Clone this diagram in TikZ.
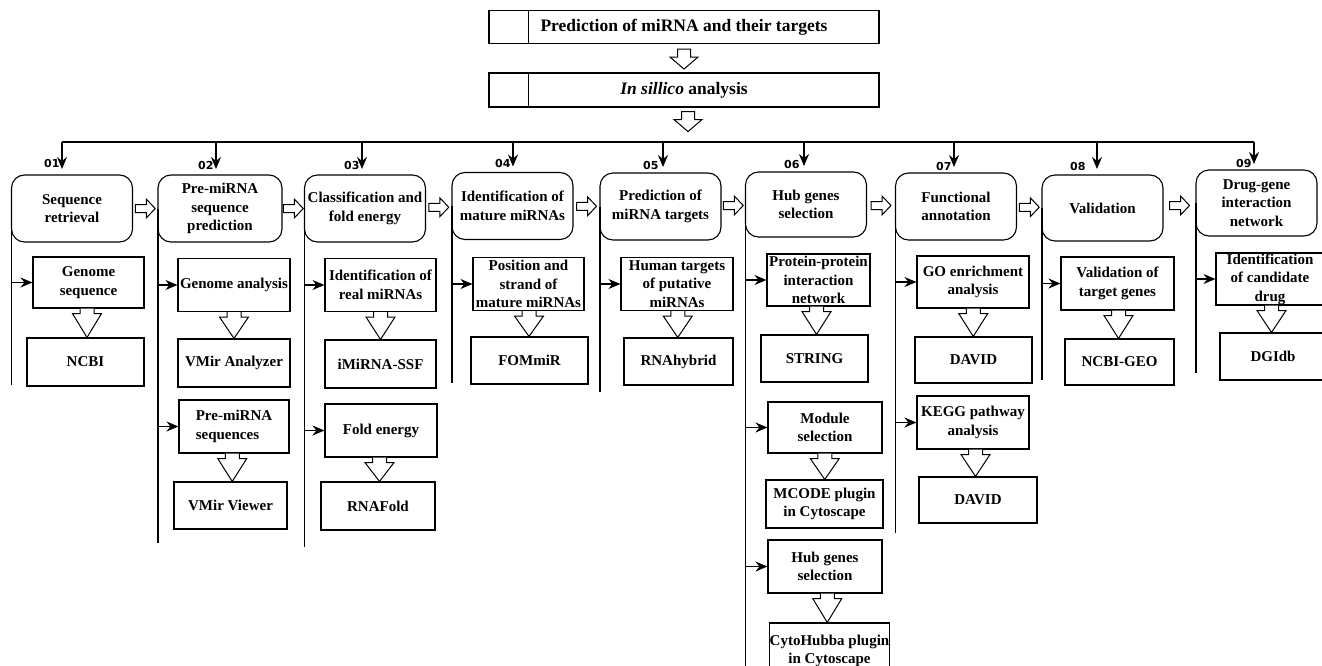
\documentclass[tikz,border=0pt]{standalone}
\usepackage{fontspec}
\setmainfont{Liberation Serif}
\newfontfamily\numfont{DejaVu Sans}
\usetikzlibrary{arrows.meta}
\usetikzlibrary{calc}

\tikzset{
  headbox/.style={draw, rounded corners=13pt, outer sep=0pt, minimum width=121pt, minimum height=67pt, align=center, inner sep=0pt, font=\fontsize{15}{18.5}\selectfont\bfseries},
  subbox/.style={draw, minimum width=112pt, minimum height=53pt, align=center, inner sep=0pt, font=\fontsize{15}{18.5}\selectfont\bfseries},
  toolbox/.style={draw, minimum width=114pt, minimum height=47pt, align=center, inner sep=0pt, font=\fontsize{15}{18.5}\selectfont\bfseries},
  titlebox/.style={draw, minimum width=390pt, minimum height=33pt, inner sep=0pt, font=\fontsize{17.5}{20}\selectfont\bfseries},
  numlabel/.style={inner sep=0pt, font=\numfont\bfseries\fontsize{11}{13}\selectfont},
  hollow/.style={draw, fill=white, line width=1pt, line join=miter},
  feed/.style={-{Stealth[length=12pt,width=10pt,inset=4pt]}},
  drop/.style={-{Stealth[length=12pt,width=10pt,inset=4pt]}, shorten >=6pt},
}

% hollow block arrow from one box down to the next
\newcommand{\blockdown}[2]{%
  \coordinate (mid) at ($(#1.south)!0.5!(#2.north)$);
  \coordinate (bt) at (mid |- #1.south);
  \draw[hollow] ($(bt)+(-7,0)$) -- ($(bt)+(-7,5)$) -- ($(bt)+(-14.5,5)$) -- (mid |- #2.north) -- ($(bt)+(14.5,5)$) -- ($(bt)+(7,5)$) -- ($(bt)+(7,0)$);
}
% hollow block arrow between two step headers
\newcommand{\blockright}[2]{%
  \coordinate (mid) at ($(#1.east)!0.5!(#2.west)$);
  \draw[hollow] ($(mid)+(-10,-4)$) -- ($(mid)+(1,-4)$) -- ($(mid)+(1,-9.5)$) -- ($(mid)+(10,0)$) -- ($(mid)+(1,9.5)$) -- ($(mid)+(1,4)$) -- ($(mid)+(-10,4)$) -- cycle;
}

\begin{document}
\begin{tikzpicture}[x=1pt,y=1pt,yscale=-1,line width=1.1pt]
\useasboundingbox (0,0) rectangle (1322,666);
\clip (0,0) rectangle (1322,666);

% title boxes
\node[titlebox] (top1) at (684,27) {Prediction of miRNA and their targets};
\draw ($(top1.north west)+(40,0)$) -- ($(top1.south west)+(40,0)$);
\node[titlebox, minimum height=34pt] (top2) at (684,90) {\textit{In sillico} analysis};
\draw ($(top2.north west)+(40,0)$) -- ($(top2.south west)+(40,0)$);
\draw[hollow] ($(top1.south)+(-6.5,5)$) -- ++(0,8) -- ++(-7.5,0) -- ++(14,12) -- ++(14,-12) -- ++(-7.5,0) -- ++(0,-8) -- cycle;
\draw[hollow] ($(top2.south)+(-2.5,4)$) -- ++(0,8) -- ++(-7.5,0) -- ++(14,12) -- ++(14,-12) -- ++(-7.5,0) -- ++(0,-8) -- cycle;

% step headers
\node[headbox] (h1) at (72,208.5) {Sequence\\retrieval};
\node[headbox, minimum width=124pt] (h2) at (220,208.5) {Pre-miRNA\\sequence\\prediction};
\node[headbox] (h3) at (365,208.5) {Classification and\\fold energy};
\node[headbox] (h4) at (512.5,206) {Identification of\\mature miRNAs};
\node[headbox] (h5) at (660.5,206.5) {Prediction of\\miRNA targets};
\node[headbox, minimum height=65pt] (h6) at (806,204.5) {Hub genes\\selection};
\node[headbox] (h7) at (956,206.5) {Functional\\annotation};
\node[headbox, minimum height=66pt] (h8) at (1102.5,208) {Validation};
\node[headbox, minimum height=66pt] (h9) at (1256.5,203) {Drug-gene\\interaction\\network};

% distribution line and step numbers
\coordinate (b1) at (62,142);
\coordinate (b2) at (216,142);
\coordinate (b3) at (362,142);
\coordinate (b4) at (513,142);
\coordinate (b5) at (663,142);
\coordinate (b6) at (804,142);
\coordinate (b7) at (954,142);
\coordinate (b8) at (1097,142);
\coordinate (b9) at (1254,142);
\draw (b1) -- (b9);
\draw[drop] (b1) -- (b1 |- h1.north);
\draw[drop] (b2) -- (b2 |- h2.north);
\draw[drop] (b3) -- (b3 |- h3.north);
\draw[drop] (b4) -- (b4 |- h4.north);
\draw[drop] (b5) -- (b5 |- h5.north);
\draw[drop] (b6) -- (b6 |- h6.north);
\draw[drop] (b7) -- (b7 |- h7.north);
\draw[drop] (b8) -- (b8 |- h8.north);
\draw[drop] (b9) -- (b9 |- h9.north);
\node[numlabel, anchor=east] (n1) at ($(b1)+(-2,21)$) {01};
\node[numlabel, anchor=east] (n2) at ($(b2)+(-2,23)$) {02};
\node[numlabel, anchor=east] (n3) at ($(b3)+(-2,23)$) {03};
\node[numlabel, anchor=east] (n4) at ($(b4)+(-2,21)$) {04};
\node[numlabel, anchor=east] (n5) at ($(b5)+(-4,23)$) {05};
\node[numlabel, anchor=east] (n6) at ($(b6)+(-4,22)$) {06};
\node[numlabel, anchor=east] (n7) at ($(b7)+(-2,24)$) {07};
\node[numlabel, anchor=east] (n8) at ($(b8)+(-11,24)$) {08};
\node[numlabel, anchor=east] (n9) at ($(b9)+(-2,21)$) {09};

% arrows between headers
\blockright{h1}{h2}
\blockright{h2}{h3}
\blockright{h3}{h4}
\blockright{h4}{h5}
\blockright{h5}{h6}
\blockright{h6}{h7}
\blockright{h7}{h8}
\blockright{h8}{h9}

% 01
\node[subbox, minimum width=111pt, minimum height=51pt] (g1) at (88.5,282.5) {Genome\\sequence};
\node[toolbox, minimum width=117pt, minimum height=48pt] (t1) at (85.5,362) {NCBI};
\blockdown{g1}{t1}
\draw (h1.west) -- (h1.west |- 0,385);
\draw[feed] (h1.west |- g1.west) -- (g1.west);

% 02
\node[subbox] (g2) at (234,285) {Genome analysis};
\node[toolbox, minimum width=112pt, minimum height=48pt] (t2) at (234,363) {VMir Analyzer};
\node[subbox, minimum width=110pt, align=left] (p2) at (234,426.5) {Pre-miRNA\\sequences};
\node[toolbox, minimum width=113pt] (v2) at (230.5,505.5) {VMir Viewer};
\blockdown{g2}{t2}
\blockdown{p2}{v2}
\draw (h2.west) -- (h2.west |- 0,543);
\draw[feed] (h2.west |- g2.west) -- (g2.west);
\draw[feed] (h2.west |- p2.west) -- (p2.west);

% 03
\node[subbox, minimum width=111pt] (i3) at (380.5,285) {Identification of\\real miRNAs};
\node[toolbox, minimum width=111pt, minimum height=48pt] (s3) at (380.5,364) {iMiRNA-SSF};
\node[subbox] (f3) at (381,430.5) {Fold energy};
\node[toolbox, minimum height=48pt] (r3) at (378,506) {RNAFold};
\blockdown{i3}{s3}
\blockdown{f3}{r3}
\draw (h3.west) -- (h3.west |- 0,547);
\draw[feed] (h3.west |- i3.west) -- (i3.west);
\draw[feed] (h3.west |- f3.west) -- (f3.west);

% 04
\node[subbox, minimum width=111pt] (ps4) at (528.5,284) {Position and\\strand of\\mature miRNAs};
\node[toolbox, minimum width=117pt] (fo4) at (529.5,360.5) {FOMmiR};
\blockdown{ps4}{fo4}
\draw (h4.west) -- (h4.west |- 0,383);
\draw[feed] (h4.west |- ps4.west) -- (ps4.west);

% 05
\node[subbox] (hu5) at (677,284) {Human targets\\of putative\\miRNAs};
\node[toolbox, minimum width=109pt] (rh5) at (678.5,361.5) {RNAhybrid};
\blockdown{hu5}{rh5}
\draw (h5.west) -- (h5.west |- 0,392);
\draw[feed] (h5.west |- hu5.west) -- (hu5.west);

% 06
\node[subbox, minimum width=103pt, minimum height=52pt] (pp6) at (818.5,280) {Protein-protein\\interaction\\network};
\node[toolbox, minimum width=107pt] (st6) at (814.5,358.5) {STRING};
\node[subbox, minimum width=114pt, minimum height=51pt] (ms6) at (825,427.5) {Module\\selection};
\node[toolbox, minimum width=117pt, minimum height=48pt] (mc6) at (824.5,504) {MCODE plugin\\in Cytoscape};
\node[subbox, minimum width=114pt] (hg6) at (825,566.5) {Hub genes\\selection};
\node[toolbox, minimum width=117pt, minimum height=56pt] (ch6) at (829.5,651) {CytoHubba plugin\\in Cytoscape};
\blockdown{pp6}{st6}
\blockdown{ms6}{mc6}
\blockdown{hg6}{ch6}
\draw (h6.west) -- (h6.west |- 0,670);
\draw[feed] (h6.west |- pp6.west) -- (pp6.west);
\draw[feed] (h6.west |- ms6.west) -- (ms6.west);
\draw[feed] (h6.west |- hg6.west) -- (hg6.west);

% 07
\node[subbox, minimum height=52pt] (go7) at (973,282) {GO enrichment\\analysis};
\node[toolbox, minimum width=117pt, minimum height=46pt] (d7) at (973.5,360) {DAVID};
\node[subbox] (kg7) at (973,422.5) {KEGG pathway\\analysis};
\node[toolbox, minimum width=118pt, minimum height=46pt] (d7b) at (978,500) {DAVID};
\blockdown{go7}{d7}
\blockdown{kg7}{d7b}
\draw (h7.west) -- (h7.west |- 0,533);
\draw[feed] (h7.west |- go7.west) -- (go7.west);
\draw[feed] (h7.west |- kg7.west) -- (kg7.west);

% 08
\node[subbox, minimum width=113pt] (vt8) at (1117.5,283.5) {Validation of\\target genes};
\node[toolbox, minimum width=109pt, minimum height=46pt] (ng8) at (1119.5,362) {NCBI-GEO};
\blockdown{vt8}{ng8}
\draw (h8.west) -- (h8.west |- 0,380);
\draw[feed] (h8.west |- vt8.west) -- (vt8.west);

% 09
\node[subbox, minimum width=108pt, minimum height=52pt] (ic9) at (1270,279) {Identification\\of candidate\\drug};
\node[toolbox, minimum width=106pt] (dg9) at (1273,356.5) {DGIdb};
\blockdown{ic9}{dg9}
\draw (h9.west) -- (h9.west |- 0,373);
\draw[feed] (h9.west |- ic9.west) -- (ic9.west);

\end{tikzpicture}
\end{document}
